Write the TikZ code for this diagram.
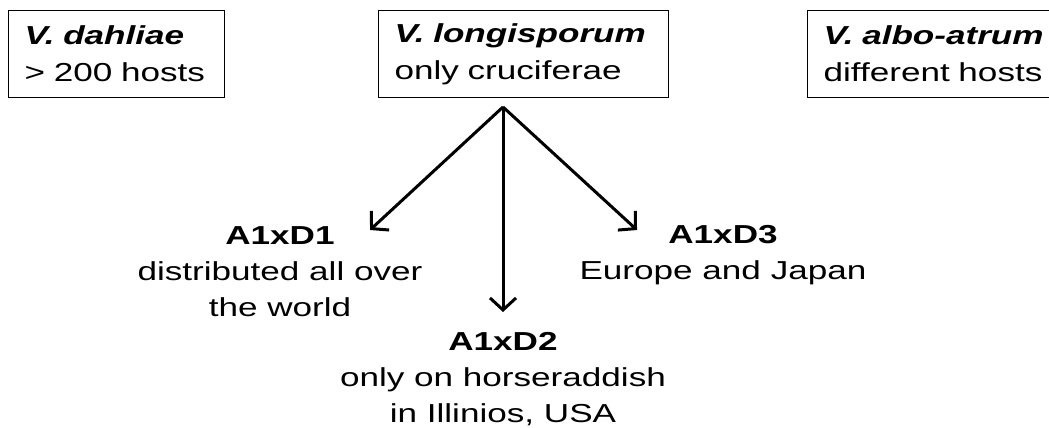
\documentclass[tikz,border=0pt]{standalone}
\usepackage{fontspec}
\setmainfont[FakeStretch=1.35]{Liberation Sans}
\usetikzlibrary{arrows.meta}
\begin{document}
\begin{tikzpicture}[x=1pt,y=1pt,
  species/.style={draw, line width=1.3pt, anchor=north west, minimum height=87pt,
    inner xsep=16pt, inner ysep=0pt, align=left,
    font=\fontsize{26}{37}\selectfont},
  group/.style={anchor=north, inner sep=0pt, align=center,
    font=\fontsize{26}{36}\selectfont},
  link/.style={line width=3pt,
    -{Straight Barb[length=12pt,width=26pt,line width=3pt]}}]
  \useasboundingbox (0,0) rectangle (1049,-428);

  % the three Verticillium species
  \node[species, text width=184pt] (dahliae) at (8,-10)
    {{\bfseries\itshape V. dahliae}\\> 200 hosts};
  \node[species, text width=258pt] (longi) at (378,-10)
    {{\bfseries\itshape V. longisporum}\\only cruciferae};
  \node[species, text width=221pt] (albo) at (807,-10)
    {{\bfseries\itshape V. albo-atrum}\\different hosts};

  % hybrid lineages of V. longisporum
  \node[group] (d1) at (280,-226)
    {\textbf{A1xD1}\\distributed all over\\the world};
  \node[group] (d2) at (503,-332)
    {\textbf{A1xD2}\\only on horseraddish\\in Illinios, USA};
  \node[group] (d3) at (723,-225)
    {\textbf{A1xD3}\\Europe and Japan};

  % arrows from the species box to the lineages
  \coordinate (hub) at (503,-107);
  \coordinate (e1) at (370,-230);
  \coordinate (e2) at (503,-312);
  \coordinate (e3) at (637,-230);
  \draw[link] (hub) -- (e1);
  \draw[link] (hub) -- (e2);
  \draw[link] (hub) -- (e3);
\end{tikzpicture}
\end{document}
